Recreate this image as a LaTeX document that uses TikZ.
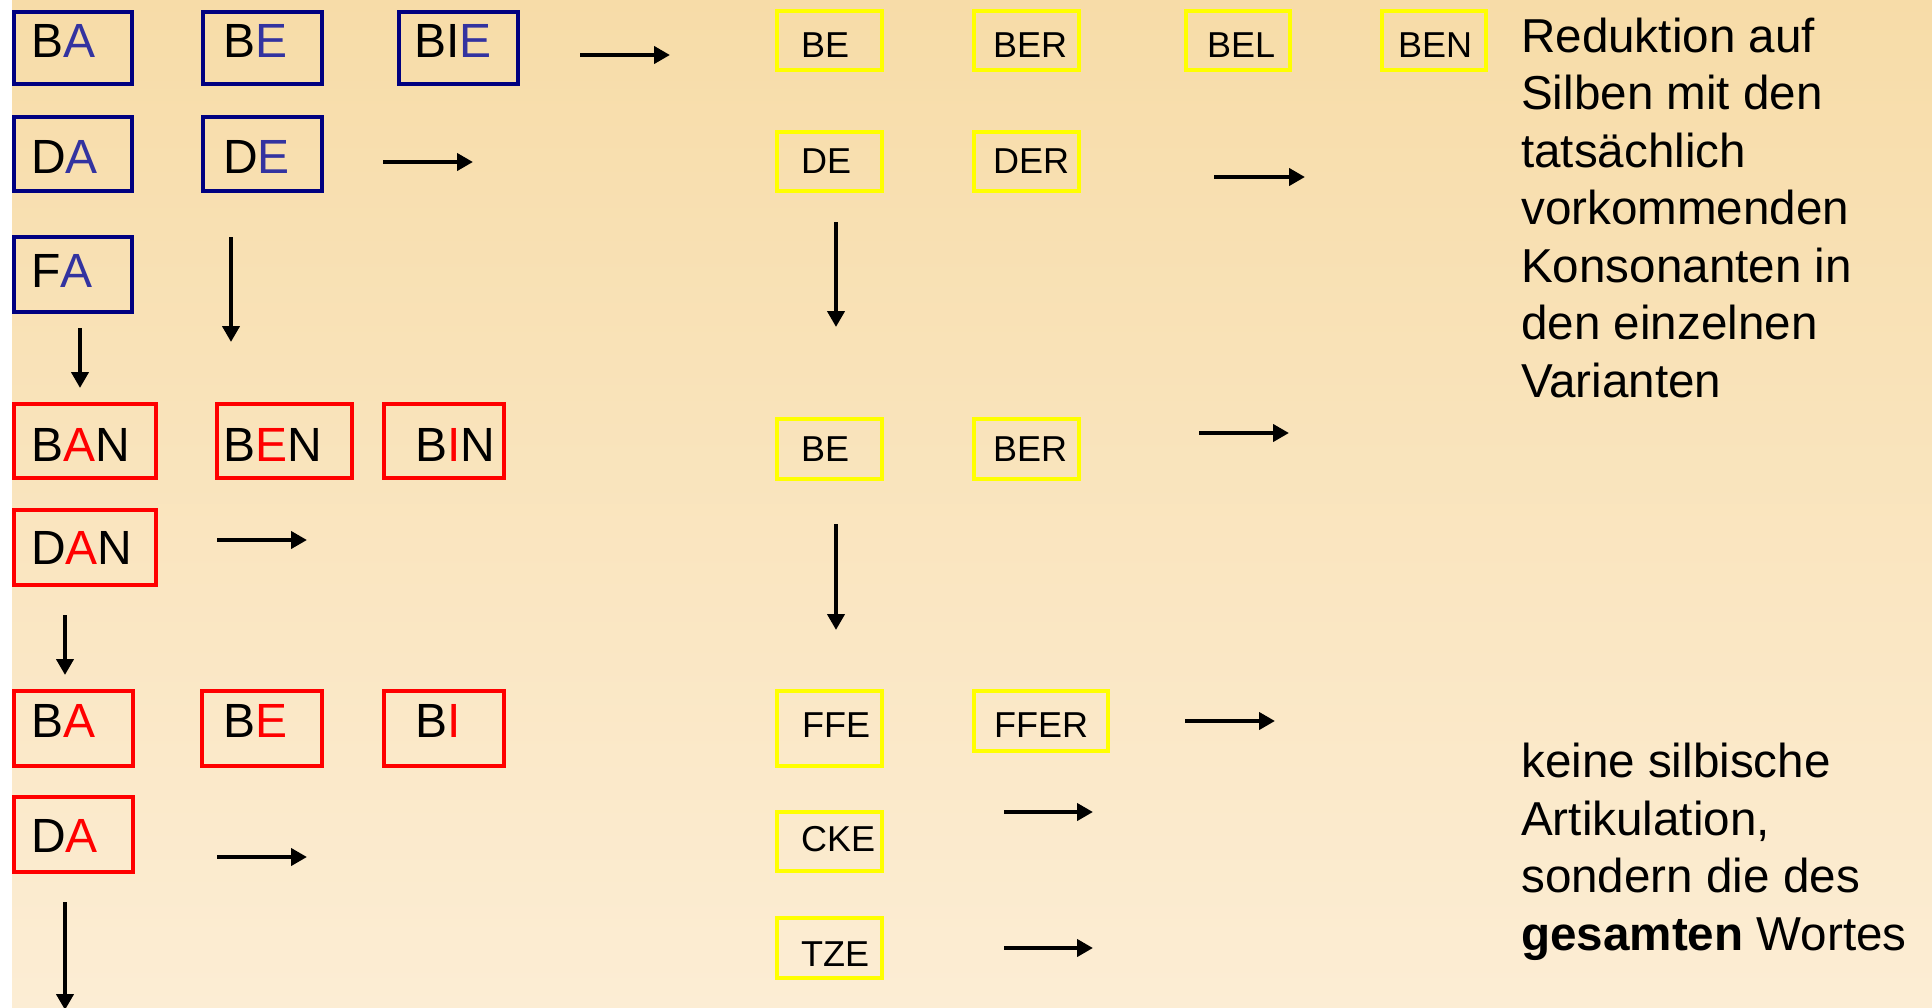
\documentclass[tikz,border=0pt]{standalone}
\usepackage{fontspec}
\setmainfont{Liberation Sans}
\usetikzlibrary{arrows.meta}

\definecolor{bgtop}{RGB}{247,220,168}
\definecolor{bgbot}{RGB}{252,237,212}
\definecolor{navy}{RGB}{0,0,128}
\definecolor{vblue}{RGB}{51,51,160}
\definecolor{vred}{RGB}{255,0,0}
\definecolor{syl}{RGB}{255,255,0}

\tikzset{
  box/.style={inner sep=0pt, line width=4pt},
  bluebox/.style={box, draw=navy},
  redbox/.style={box, draw=vred},
  yelbox/.style={box, draw=syl},
  big/.style={anchor=base west, inner sep=0pt, font=\fontsize{48}{58}\selectfont},
  small/.style={anchor=base west, inner sep=0pt, font=\fontsize{36}{44}\selectfont},
  % multi-line notes are placed by the baseline of their last line
  note/.style={anchor=base west, inner sep=0pt, align=left,
    font=\fontsize{47.6}{57.5}\selectfont},
  arr/.style={line width=4.5pt, -{Triangle[length=16pt,width=17pt]}},
}

\begin{document}
\begin{tikzpicture}[x=1pt,y=-1pt]
\useasboundingbox (0,0) rectangle (1932,1007);
\fill[white] (0,0) rectangle (12,1007);
\shade[top color=bgtop, bottom color=bgbot] (12,0) rectangle (1932,1007);

% open syllables with varying vowel
\node[bluebox, minimum width=118pt, minimum height=72pt] (ba) at (73,48) {};
\node[bluebox, minimum width=119pt, minimum height=72pt] (be) at (262.5,48) {};
\node[bluebox, minimum width=119pt, minimum height=72pt] (bie) at (458.5,48) {};
\node[bluebox, minimum width=118pt, minimum height=74pt] (da) at (73,154) {};
\node[bluebox, minimum width=119pt, minimum height=74pt] (de) at (262.5,154) {};
\node[bluebox, minimum width=118pt, minimum height=75pt] (fa) at (73,274.5) {};
\node[big] (tba) at (31,57) {B\textcolor{vblue}{A}};
\node[big] (tbe) at (223,57) {B\textcolor{vblue}{E}};
\node[big] (tbie) at (414,57) {BI\textcolor{vblue}{E}};
\node[big] (tda) at (31,173) {D\textcolor{vblue}{A}};
\node[big] (tde) at (223,173) {D\textcolor{vblue}{E}};
\node[big] (tfa) at (31,287) {F\textcolor{vblue}{A}};

% closed syllables and reduced forms
\node[redbox, minimum width=142pt, minimum height=74pt] (ban) at (85,441) {};
\node[redbox, minimum width=135pt, minimum height=74pt] (ben) at (284.5,441) {};
\node[redbox, minimum width=120pt, minimum height=74pt] (bin) at (444,441) {};
\node[redbox, minimum width=142pt, minimum height=75pt] (dan) at (85,547.5) {};
\node[redbox, minimum width=119pt, minimum height=75pt] (bar) at (73.5,728.5) {};
\node[redbox, minimum width=120pt, minimum height=75pt] (ber) at (262,728.5) {};
\node[redbox, minimum width=120pt, minimum height=75pt] (bi) at (444,728.5) {};
\node[redbox, minimum width=119pt, minimum height=75pt] (dar) at (73.5,834.5) {};
\node[big] (tban) at (31,461) {B\textcolor{vred}{A}N};
\node[big] (tben) at (223,461) {B\textcolor{vred}{E}N};
\node[big] (tbin) at (415,461) {B\textcolor{vred}{I}N};
\node[big] (tdan) at (31,564) {D\textcolor{vred}{A}N};
\node[big] (tbar) at (31,737) {B\textcolor{vred}{A}};
\node[big] (tber) at (223,737) {B\textcolor{vred}{E}};
\node[big] (tbi) at (415,737) {B\textcolor{vred}{I}};
\node[big] (tdar) at (31,852) {D\textcolor{vred}{A}};

% syllables with the consonants that actually occur
\node[yelbox, minimum width=105pt, minimum height=59pt] (ybe) at (829.5,40.5) {};
\node[yelbox, minimum width=105pt, minimum height=59pt] (yber) at (1026.5,40.5) {};
\node[yelbox, minimum width=104pt, minimum height=59pt] (ybel) at (1238,40.5) {};
\node[yelbox, minimum width=104pt, minimum height=59pt] (yben) at (1434,40.5) {};
\node[yelbox, minimum width=105pt, minimum height=59pt] (yde) at (829.5,161.5) {};
\node[yelbox, minimum width=105pt, minimum height=59pt] (yder) at (1026.5,161.5) {};
\node[yelbox, minimum width=105pt, minimum height=60pt] (ybe2) at (829.5,449) {};
\node[yelbox, minimum width=105pt, minimum height=60pt] (yber2) at (1026.5,449) {};
\node[yelbox, minimum width=105pt, minimum height=75pt] (yffe) at (829.5,728.5) {};
\node[yelbox, minimum width=134pt, minimum height=60pt] (yffer) at (1041,721) {};
\node[yelbox, minimum width=105pt, minimum height=59pt] (ycke) at (829.5,841.5) {};
\node[yelbox, minimum width=105pt, minimum height=60pt] (ytze) at (829.5,948) {};
\node[small] (tybe) at (801,57) {BE};
\node[small] (tyber) at (993,57) {BER};
\node[small] (tybel) at (1207,57) {BEL};
\node[small] (tyben) at (1398,57) {BEN};
\node[small] (tyde) at (801,173) {DE};
\node[small] (tyder) at (993,173) {DER};
\node[small] (tybe2) at (801,461) {BE};
\node[small] (tyber2) at (993,461) {BER};
\node[small] (tyffe) at (802,737) {FFE};
\node[small] (tyffer) at (994,737) {FFER};
\node[small] (tycke) at (801,851) {CKE};
\node[small] (tytze) at (801,966) {TZE};

% explanatory notes
\node[note] (n1) at (1521,397) {Reduktion auf\\Silben mit den\\tats\"achlich\\vorkommenden\\Konsonanten in\\den einzelnen\\Varianten};
\node[note] (n2) at (1521,950) {keine silbische\\Artikulation,\\sondern die des\\\textbf{gesamten} Wortes};

% arrow end points
\coordinate (a1s) at (580,55);   \coordinate (a1e) at (670,55);
\coordinate (a2s) at (383,162);  \coordinate (a2e) at (473,162);
\coordinate (a3s) at (231,237);  \coordinate (a3e) at (231,342);
\coordinate (a4s) at (80,328);   \coordinate (a4e) at (80,388);
\coordinate (a5s) at (217,540);  \coordinate (a5e) at (307,540);
\coordinate (a6s) at (65,615);   \coordinate (a6e) at (65,675);
\coordinate (a7s) at (217,857);  \coordinate (a7e) at (307,857);
\coordinate (a8s) at (65,902);   \coordinate (a8e) at (65,1010);
\coordinate (a9s) at (1214,177); \coordinate (a9e) at (1305,177);
\coordinate (a10s) at (836,222); \coordinate (a10e) at (836,327);
\coordinate (a11s) at (1199,433);\coordinate (a11e) at (1289,433);
\coordinate (a12s) at (836,524); \coordinate (a12e) at (836,630);
\coordinate (a13s) at (1185,721);\coordinate (a13e) at (1275,721);
\coordinate (a14s) at (1004,812);\coordinate (a14e) at (1093,812);
\coordinate (a15s) at (1004,948);\coordinate (a15e) at (1093,948);

\begin{scope}
\clip (0,0) rectangle (1932,1007);
\foreach \i in {1,...,15} {\draw[arr] (a\i s) -- (a\i e);}
\end{scope}
\end{tikzpicture}
\end{document}
